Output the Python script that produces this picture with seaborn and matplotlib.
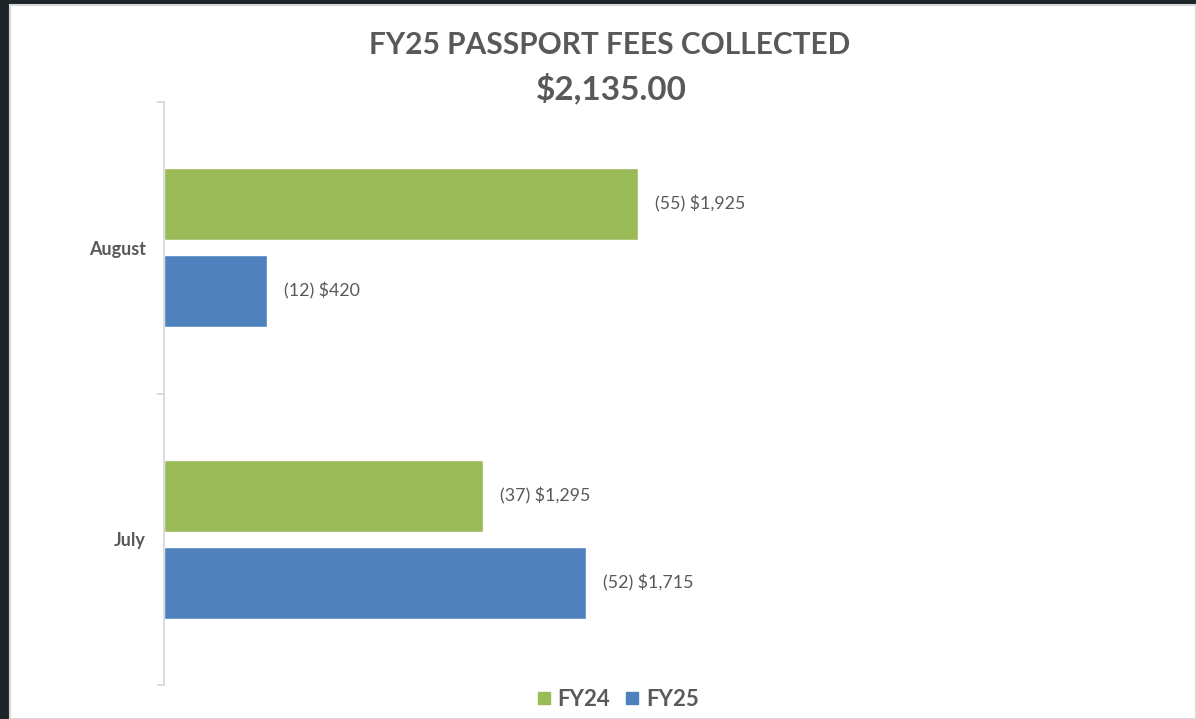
import matplotlib
matplotlib.use("Agg")
import matplotlib.pyplot as plt
from matplotlib.patches import Rectangle
from matplotlib.lines import Line2D
import seaborn as sns
import pandas as pd

# ---- data ----
months = ["August", "July"]
series = ["FY24", "FY25"]
fy24_values = [1925, 1295]
fy25_values = [420, 1715]
fy24_counts = [55, 37]
fy25_counts = [12, 52]
title_line1 = "FY25 PASSPORT FEES COLLECTED"
title_line2 = "$2,135.00"

colors = {"FY24": "#9BBB59", "FY25": "#4F81BD"}
text_color = "#595959"

sns.set_theme(style="white")
plt.rcParams["font.family"] = ["Lato", "DejaVu Sans"]

df = pd.DataFrame({
    "Month": months * 2,
    "Series": [series[0]] * len(months) + [series[1]] * len(months),
    "Value": fy24_values + fy25_values,
})
counts = {"FY24": fy24_counts, "FY25": fy25_counts}
values = {"FY24": fy24_values, "FY25": fy25_values}

W, H = 1196, 719
fig = plt.figure(figsize=(W / 100, H / 100), dpi=100)
fig.patch.set_facecolor("#1e2528")
fig.patches.append(Rectangle((10 / W, 0), 1 - 10 / W, 1 - 5 / H,
                             transform=fig.transFigure, facecolor="white",
                             edgecolor="#d9d9d9", linewidth=1.5, zorder=-10))

ax = fig.add_axes([164 / W, 1 - 685 / H, 985 / W, (685 - 102) / H])
ax.set_facecolor("none")

sns.barplot(data=df, y="Month", x="Value", hue="Series", order=months,
            hue_order=series, palette=colors, orient="h", width=0.598,
            gap=0.174, ax=ax, saturation=1, legend=False)

for cont, s in zip(ax.containers, series):
    labels = [f"({c}) ${v:,}" for c, v in zip(counts[s], values[s])]
    ax.bar_label(cont, labels=labels, padding=12, fontsize=12.8, color=text_color)

ax.set_xlim(0, 4000)
ax.set_ylim(1.5, -0.5)
ax.set_xlabel("")
ax.set_ylabel("")
ax.set_xticks([])
for sp in ["top", "right", "bottom"]:
    ax.spines[sp].set_visible(False)
ax.spines["left"].set_color("#d9d9d9")
ax.spines["left"].set_linewidth(1.3)
ax.set_yticks([0, 1])
ax.set_yticklabels(months, fontsize=13, fontweight="bold", color=text_color)
ax.tick_params(axis="y", which="major", length=0, pad=13)
ax.set_yticks([-0.5, 0.5, 1.5], minor=True)
ax.tick_params(axis="y", which="minor", length=5, width=1.3, color="#d9d9d9",
               direction="out", left=True)

fig.text(610 / W, 1 - 45 / H, title_line1, ha="center", va="center",
         fontsize=21.5, fontweight="bold", color=text_color)
fig.text(611 / W, 1 - 88 / H, title_line2, ha="center", va="center",
         fontsize=24, fontweight="bold", color=text_color)

handles = [Line2D([], [], marker="s", linestyle="none", markersize=9,
                  markerfacecolor=colors[s], markeredgecolor=colors[s], label=s)
           for s in series]
leg = fig.legend(handles=handles, loc="center", bbox_to_anchor=(618 / W, 1 - 699 / H),
                 ncol=2, frameon=False, handlelength=0.6, handletextpad=0.3,
                 columnspacing=0.7, prop={"size": 16, "weight": "bold"})
for t in leg.get_texts():
    t.set_color(text_color)

fig.savefig("out.png", dpi=100, facecolor=fig.get_facecolor())
